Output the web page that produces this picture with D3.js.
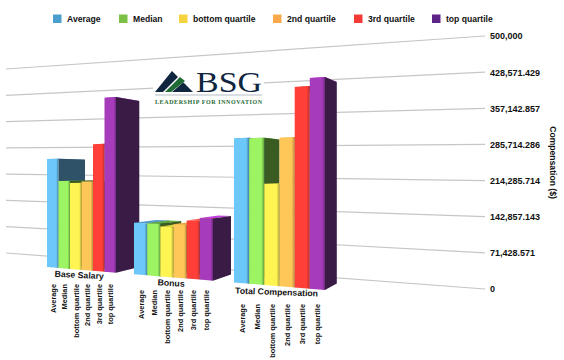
<!DOCTYPE html>
<html lang="en">
<head>
	<meta charset="UTF-8">
	<title>Compensation</title>
	<style>
		html, body { margin: 0; padding: 0; background: #fff; }
		svg { display: block; }
		text { font-family: "Liberation Sans", Arial, sans-serif; font-weight: bold; fill: #111; }
	</style>
</head>
<body>
	<script src="https://cdn.jsdelivr.net/npm/d3@7"></script>
	<script>
		var categories = ["Base Salary", "Bonus", "Total Compensation"];
		var series = ["Average", "Median", "bottom quartile", "2nd quartile", "3rd quartile", "top quartile"];
		var baseSalary = [257000, 205000, 200000, 204000, 289000, 393000];
		var bonus = [113000, 113000, 107000, 113000, 122000, 128000];
		var totalCompensation = [292000, 291000, 200000, 290000, 387000, 402000];
		var axisTicks = [0, 71428.571, 142857.143, 214285.714, 285714.286, 357142.857, 428571.429, 500000];

		var legendColors = ["#4a9ecb", "#7bc143", "#f5d33f", "#f9a94b", "#f53a35", "#5e2386"];
		var lightColors = ["#6cc8f8", "#9cf462", "#fff552", "#ffc758", "#ff3f38", "#a63cbc"];
		var edgeColors = ["#3f7fa6", "#5f9c3c", "#b3a83a", "#b58b3c", "#b52a28", "#6e2a80"];
		var sideColors = ["#2f5268", "#3a5c22", "#6a6a20", "#7a5a25", "#7a1c1a", "#3a1b45"];
		var topColors = ["#4f9cc8", "#5fae3a", "#e0d040", "#e8a848", "#f05a50", "#c040e0"];

		var values = [baseSalary, bonus, totalCompensation];
		var width = 564, height = 360;
		var vanish = [540, 170], depth = 0.055;

		var svg = d3.select("body").append("svg")
			.attr("width", width)
			.attr("height", height);

		var defs = svg.append("defs");
		series.forEach(function(s, i) {
			var g = defs.append("linearGradient").attr("id", "front" + i);
			g.append("stop").attr("offset", "0").attr("stop-color", lightColors[i]);
			g.append("stop").attr("offset", "0.8").attr("stop-color", lightColors[i]);
			g.append("stop").attr("offset", "1").attr("stop-color", edgeColors[i]);
		});

		// back wall grid lines, they fan out towards the right
		var gridLeft = d3.scaleLinear().domain([0, 500000]).range([253, 69]);
		var gridRight = d3.scaleLinear().domain([0, 500000]).range([289, 36]);

		svg.append("g").selectAll("line")
			.data(axisTicks)
			.enter().append("line")
			.attr("x1", 6)
			.attr("x2", 485)
			.attr("y1", function(d) { return gridLeft(d); })
			.attr("y2", function(d) { return gridRight(d); })
			.attr("stroke", "#c6c6c6")
			.attr("stroke-width", 1.2);

		var axis = d3.axisRight(gridRight)
			.tickValues(axisTicks)
			.tickSize(0)
			.tickPadding(5)
			.tickFormat(d3.format(",.3~f"));

		var axisG = svg.append("g")
			.attr("transform", "translate(485,0)")
			.call(axis);
		axisG.select(".domain").remove();
		axisG.selectAll("text")
			.style("font-family", "Liberation Sans, Arial, sans-serif")
			.style("font-size", "9px");

		svg.append("text")
			.attr("transform", "translate(550,162.5) rotate(90)")
			.attr("text-anchor", "middle")
			.style("font-size", "8.6px")
			.text("Compensation ($)");

		// front plane of the bars, groups get wider to the right
		var groupBand = d3.scaleBand().domain(categories).range([0, 1]).paddingInner(0.2);
		var barBand = d3.scaleBand().domain(series).range([0, groupBand.bandwidth()]);
		var groupEdges = [];
		categories.forEach(function(c) {
			groupEdges.push(groupBand(c), groupBand(c) + groupBand.bandwidth());
		});
		var xProject = d3.scaleLinear().domain(groupEdges).range([47, 116, 134, 213, 234, 325]);
		var floorY = d3.scaleLinear().domain([47, 325]).range([267, 290]);
		var ceilY = d3.scaleLinear().domain([47, 325]).range([57, 25]);

		function frontY(x, v) {
			return d3.scaleLinear().domain([0, 500000]).range([floorY(x), ceilY(x)])(v);
		}
		function back(p) {
			return [p[0] + (vanish[0] - p[0]) * depth, p[1] + (vanish[1] - p[1]) * depth];
		}

		var bars = [];
		categories.forEach(function(c, g) {
			series.forEach(function(s, i) {
				var u0 = groupBand(c) + barBand(s);
				var u1 = u0 + barBand.bandwidth();
				bars.push({ g: g, i: i, x0: xProject(u0), x1: xProject(u1), v: values[g][i] });
			});
		});

		function pts(a) {
			return a.map(function(p) { return p[0].toFixed(1) + "," + p[1].toFixed(1); }).join(" ");
		}

		var barG = svg.append("g").selectAll("g")
			.data(bars)
			.enter().append("g");

		barG.append("polygon")
			.attr("fill", function(d) { return topColors[d.i]; })
			.attr("points", function(d) {
				var l = [d.x0, frontY(d.x0, d.v)], r = [d.x1, frontY(d.x1, d.v)];
				return pts([l, r, back(r), back(l)]);
			});
		barG.append("polygon")
			.attr("fill", function(d) { return sideColors[d.i]; })
			.attr("points", function(d) {
				var b = [d.x1, floorY(d.x1)], t = [d.x1, frontY(d.x1, d.v)];
				return pts([b, t, back(t), back(b)]);
			});
		barG.append("polygon")
			.attr("fill", function(d) { return "url(#front" + d.i + ")"; })
			.attr("points", function(d) {
				return pts([[d.x0, floorY(d.x0)], [d.x0, frontY(d.x0, d.v)], [d.x1, frontY(d.x1, d.v)], [d.x1, floorY(d.x1)]]);
			});

		// group names and the upright bar names under them
		var groupLabelPos = [[79, 278, 3], [171, 286, 3], [276.5, 295, 2]];
		var barLabelTop = [284, 290, 304];

		svg.append("g").selectAll("text")
			.data(categories)
			.enter().append("text")
			.attr("transform", function(d, i) {
				return "translate(" + groupLabelPos[i][0] + "," + groupLabelPos[i][1] + ") rotate(" + groupLabelPos[i][2] + ")";
			})
			.attr("text-anchor", "middle")
			.style("font-size", "8.7px")
			.text(function(d) { return d; });

		svg.append("g").selectAll("text")
			.data(bars)
			.enter().append("text")
			.attr("transform", function(d) {
				return "translate(" + ((d.x0 + d.x1) / 2 + 3) + "," + barLabelTop[d.g] + ") rotate(-90)";
			})
			.attr("text-anchor", "end")
			.style("font-size", "7.4px")
			.text(function(d) { return series[d.i]; });

		// legend
		var legendX = d3.scaleOrdinal().domain(series).range([53, 119, 179, 273, 354, 432]);
		var legend = svg.append("g").selectAll("g")
			.data(series)
			.enter().append("g")
			.attr("transform", function(d) { return "translate(" + legendX(d) + ",0)"; });
		legend.append("rect")
			.attr("y", 14.5)
			.attr("width", 8.5)
			.attr("height", 8.5)
			.attr("fill", function(d, i) { return legendColors[i]; });
		legend.append("text")
			.attr("x", 14)
			.attr("y", 22)
			.style("font-size", "8.6px")
			.text(function(d) { return d; });

		// BSG logo
		var logo = svg.append("g");
		logo.append("rect").attr("x", 153).attr("y", 67).attr("width", 111).attr("height", 39).attr("fill", "#fff");
		logo.append("polygon").attr("points", "155,92 172,71 193,92").attr("fill", "#10263f");
		logo.append("polygon").attr("points", "163,92 180,75 186,80 172,92").attr("fill", "#fff");
		logo.append("polygon").attr("points", "165,92 180,77 185,81 171,92").attr("fill", "#1f6b35");
		logo.append("text")
			.attr("x", 196)
			.attr("y", 92)
			.attr("textLength", 66)
			.attr("lengthAdjust", "spacingAndGlyphs")
			.style("font-family", "Liberation Serif, serif")
			.style("font-weight", "normal")
			.style("font-size", "30px")
			.style("fill", "#10263f")
			.text("BSG");
		logo.append("line").attr("x1", 155).attr("x2", 262).attr("y1", 95).attr("y2", 95).attr("stroke", "#b5bcc4");
		logo.append("text")
			.attr("x", 155)
			.attr("y", 103.5)
			.attr("textLength", 107)
			.attr("lengthAdjust", "spacing")
			.style("font-family", "Liberation Serif, serif")
			.style("font-size", "6px")
			.style("fill", "#1f6b35")
			.text("LEADERSHIP FOR INNOVATION");
	</script>
</body>
</html>
